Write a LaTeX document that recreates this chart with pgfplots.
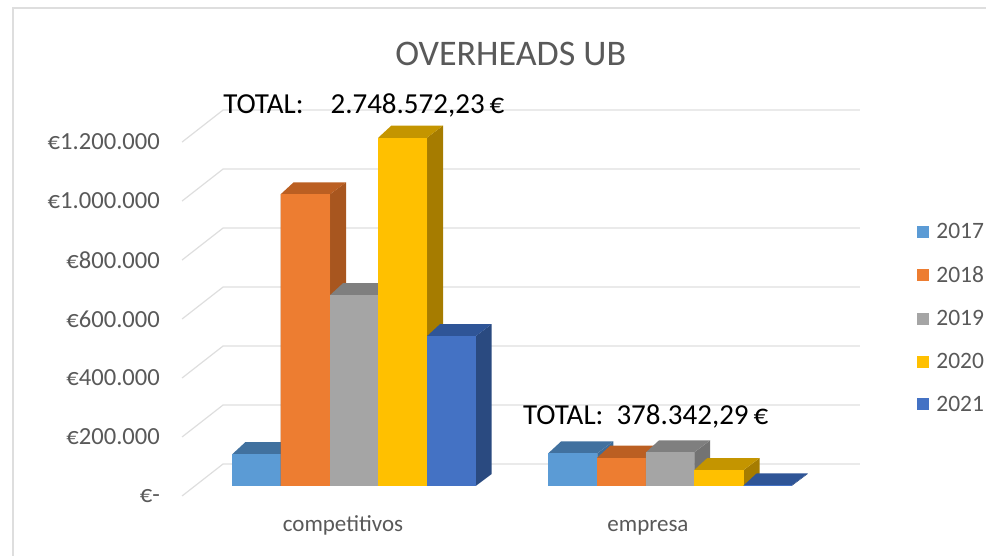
\documentclass[border=0pt]{standalone}
\usepackage{pgfplots}
\usepackage{fontspec}
\setmainfont{Carlito}
\pgfplotsset{compat=1.18}
\definecolor{txt}{HTML}{595959}
\definecolor{gridc}{HTML}{DEDEDE}
\definecolor{fA}{HTML}{5B9BD5}\definecolor{sA}{HTML}{3D6D9A}\definecolor{tA}{HTML}{41719F}
\definecolor{fB}{HTML}{ED7D31}\definecolor{sB}{HTML}{A8561F}\definecolor{tB}{HTML}{BB5F22}
\definecolor{fC}{HTML}{A5A5A5}\definecolor{sC}{HTML}{737373}\definecolor{tC}{HTML}{7F7F7F}
\definecolor{fD}{HTML}{FFC000}\definecolor{sD}{HTML}{A67C00}\definecolor{tD}{HTML}{C49500}
\definecolor{fE}{HTML}{4472C4}\definecolor{sE}{HTML}{2A4A80}\definecolor{tE}{HTML}{2F5597}
% x0, x1, value, colour letter: one bar with its right side and its top
\newcommand{\tdbar}[4]{%
  \edef\doit{%
    \noexpand\addplot[forget plot,fill=s#4,draw=none] coordinates
      {(#2,0)(\fpeval{#2+16},40678)(\fpeval{#2+16},\fpeval{#3+40678})(#2,#3)} \noexpand\closedcycle;
    \noexpand\addplot[forget plot,fill=t#4,draw=none] coordinates
      {(#1,#3)(\fpeval{#1+13},\fpeval{#3+40678})(\fpeval{#2+16},\fpeval{#3+40678})(#2,#3)} \noexpand\closedcycle;
    \noexpand\addplot[forget plot,ybar,bar shift=0pt,bar width=\fpeval{#2-#1},fill=f#4,draw=none]
      coordinates {(\fpeval{(#1+#2)/2},#3)};
  }\doit}
\newcommand{\gridl}[2]{\addplot[forget plot,color=gridc,line width=1.2pt] coordinates {(182,#1)(223,#2)(860,#2)};}
\begin{document}
\begin{tikzpicture}
\begin{axis}[
  scale only axis,width=986pt,height=556pt,
  xmin=0,xmax=986,ymin=-237288,ymax=1647458,
  axis line style={draw=none},major tick length=0pt,
  scaled y ticks=false,
  ytick={-33898,166102,366102,566102,766102,966102,1166102},
  yticklabels={€-,€200.000,€400.000,€600.000,€800.000,€1.000.000,€1.200.000},
  yticklabel style={anchor=east,xshift=160pt,text=txt,font=\fontsize{24.6}{26}\selectfont,inner sep=0pt},
  xtick={343,648},
  xticklabels={competitivos,empresa},
  xticklabel style={anchor=center,yshift=29pt,text=txt,font=\fontsize{23}{26}\selectfont,inner sep=0pt,text height=15pt,text depth=5pt},
  legend style={at={(rel axis cs:0.93,0.602)},anchor=north west,draw=none,fill=none,
    font=\fontsize{23.5}{25}\selectfont,text=txt,row sep=22.2pt,inner sep=0pt,
    /tikz/every even column/.append style={column sep=0pt}},
  legend cell align=left,
  legend image code/.code={\fill[#1,draw=none] (0pt,-6pt) rectangle (12pt,6pt);},
]
\addplot[forget plot,color=gridc,line width=1.5pt] coordinates {(13,-237288)(13,1620339)(986,1620339)};
\gridl{-33898}{74577}
\gridl{166102}{274577}
\gridl{366102}{474577}
\gridl{566102}{674577}
\gridl{766102}{874577}
\gridl{966102}{1074577}
\gridl{1166102}{1274577}
% competitivos
\tdbar{232.3}{280.6}{108000}{A}
\tdbar{280.6}{330}{989000}{B}
\tdbar{330}{378.3}{647000}{C}
\tdbar{378.3}{427}{1181000}{D}
\tdbar{427}{475.7}{508000}{E}
% empresa
\tdbar{548.3}{597.3}{111000}{A}
\tdbar{597.3}{646}{96000}{B}
\tdbar{646}{694.3}{114000}{C}
\tdbar{694.3}{743.7}{54000}{D}
\tdbar{743.7}{791.7}{2000}{E}
\addlegendimage{fill=fA}\addlegendentry{\ 2017}
\addlegendimage{fill=fB}\addlegendentry{\ 2018}
\addlegendimage{fill=fC}\addlegendentry{\ 2019}
\addlegendimage{fill=fD}\addlegendentry{\ 2020}
\addlegendimage{fill=fE}\addlegendentry{\ 2021}
\node[text=txt,font=\fontsize{36}{38}\selectfont] at (rel axis cs:0.518,0.903) {OVERHEADS UB};
\node[anchor=west,inner sep=0pt,font=\fontsize{29}{31}\selectfont] at (rel axis cs:0.2262,0.811) {TOTAL:\hspace{27pt}2.748.572,23\,€};
\node[anchor=west,inner sep=0pt,font=\fontsize{29}{31}\selectfont] at (rel axis cs:0.5304,0.2518) {TOTAL:\ \ 378.342,29\,€};
\end{axis}
\end{tikzpicture}
\end{document}
